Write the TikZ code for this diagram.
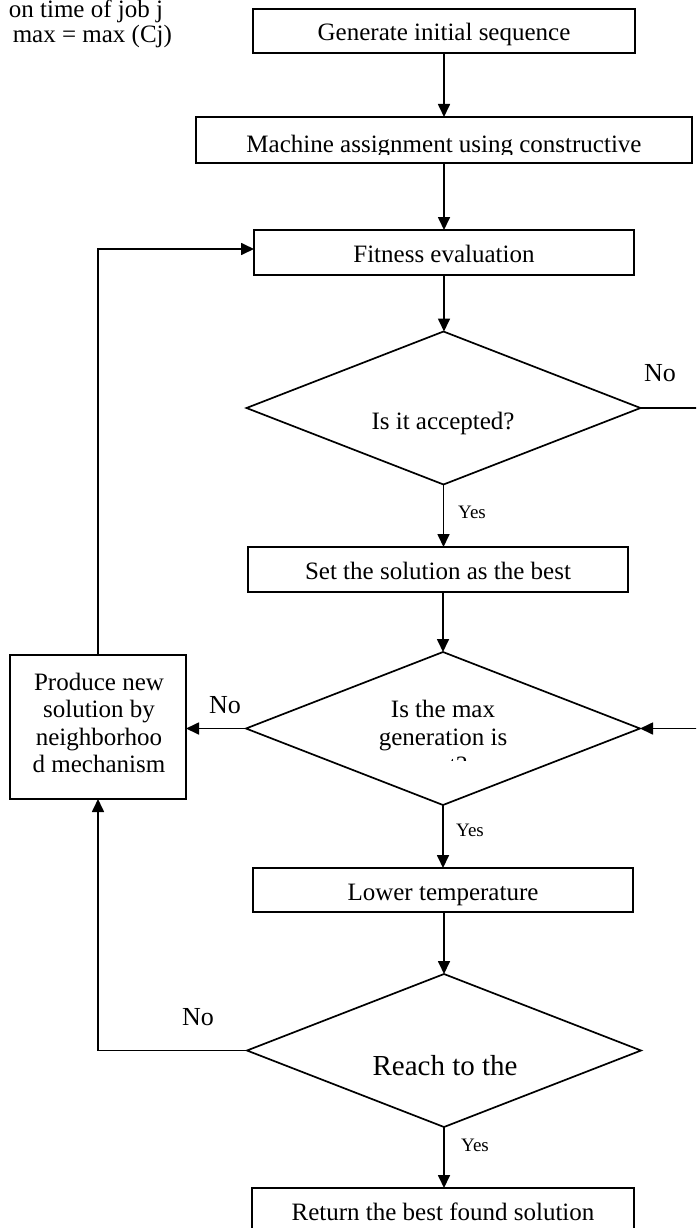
\documentclass[tikz,border=0pt]{standalone}
\usepackage{fontspec}
\setmainfont{Liberation Serif}
\usetikzlibrary{shapes.geometric,arrows.meta}
\begin{document}
\begin{tikzpicture}[x=1pt,y=-1pt,
  every node/.style={inner sep=0pt, outer sep=0pt},
  box/.style={draw, line width=1.7pt, minimum width=380pt, minimum height=44pt,
    font=\fontsize{25}{28}\selectfont, text height=20pt, text depth=0pt},
  plainbox/.style={draw, line width=1.7pt},
  dia/.style={draw, diamond, line width=1.7pt, minimum width=394pt, minimum height=153pt},
  arr/.style={line width=1.7pt, -{Triangle[width=12pt,length=13pt]}},
  ln/.style={line width=1.7pt},
  lbl/.style={font=\fontsize{25}{28}\selectfont},
  yeslbl/.style={font=\fontsize{19}{22}\selectfont},
  nolbl/.style={font=\fontsize{26}{30}\selectfont}]
\useasboundingbox (0,0) rectangle (696,1228);
\clip (0,0) rectangle (696,1228);
\fill[white] (0,0) rectangle (696,1228);

% top-left note (clipped in the original)
\node[lbl, anchor=base east] (n1) at (163,17.5) {on time of job j};
\node[lbl, anchor=base east] (n2) at (172,42.5) {max = max (Cj)};

% boxes
\node[box, minimum width=382pt] (b1) at (444,31) {Generate initial sequence};
\node[plainbox, minimum width=496pt, minimum height=46pt] (b2) at (444,140) {};
\begin{scope}
  \clip (196,117) rectangle (692,154);
  \node[lbl, anchor=base] (b2t) at (444,152.5) {Machine assignment using constructive};
\end{scope}
\node[box, minimum height=45pt] (b3) at (444,252.5) {Fitness evaluation};
\node[dia] (d1) at (443.5,408) {};
\node[lbl, anchor=base] (d1t) at (443,429) {Is it accepted?};
\node[box, minimum height=45pt] (b4) at (438,569.5) {Set the solution as the best};
\node[dia] (d2) at (443,728.5) {};
\begin{scope}
  \clip (300,690) rectangle (590,760.5);
  \node[lbl, anchor=base] (d2a) at (443,717) {Is the max};
  \node[lbl, anchor=base] (d2b) at (443,745) {generation is};
  \node[lbl, anchor=base] (d2c) at (443,773) {met?};
\end{scope}
\node[plainbox, minimum width=176pt, minimum height=144pt] (b5) at (98,727) {};
\node[align=center, font=\fontsize{25}{27.5}\selectfont] (b5t) at (99,723)
  {Produce new\\solution by\\neighborhoo\\d mechanism};
\node[box] (b6) at (443,890) {Lower temperature};
\node[dia] (d3) at (444,1050.5) {};
\node[anchor=base, font=\fontsize{29}{32}\selectfont] (d3t) at (445,1075) {Reach to the};
\node[box, minimum width=382pt] (b7) at (443,1210) {Return the best found solution};

% connectors
\draw[arr] (b1.south) -- (b2.north);
\draw[arr] (b2.south) -- (b3.north);
\draw[arr] (b3.south) -- (b3.south |- d1.north);
\draw[arr] (d1.south) -- (d1.south |- b4.north);
\draw[arr] (d2.north |- b4.south) -- (d2.north);
\draw[arr] (d2.west) -- (d2.west -| b5.east);
\draw[arr] (d2.south) -- (d2.south |- b6.north);
\draw[arr] (d3.north |- b6.south) -- (d3.north);
\draw[arr] (d3.south) -- (d3.south |- b7.north);
\draw[arr] (d3.west) -- (d3.west -| b5.south) -- (b5.south);
\draw[arr] (b5.north) -- (b5.north |- 0,249) -- (b3.west |- 0,249);
\coordinate (r1) at (700,408);
\coordinate (r2) at (700,728.5);
\draw[ln] (d1.east) -- (r1);
\draw[arr] (r2) -- (d2.east);

% labels
\node[nolbl] (no1) at (660,373) {No};
\node[yeslbl] (y1) at (472,512) {Yes};
\node[nolbl] (no2) at (225,705) {No};
\node[yeslbl] (y2) at (470,830) {Yes};
\node[nolbl] (no3) at (198,1017) {No};
\node[yeslbl] (y3) at (475,1145) {Yes};
\end{tikzpicture}
\end{document}
